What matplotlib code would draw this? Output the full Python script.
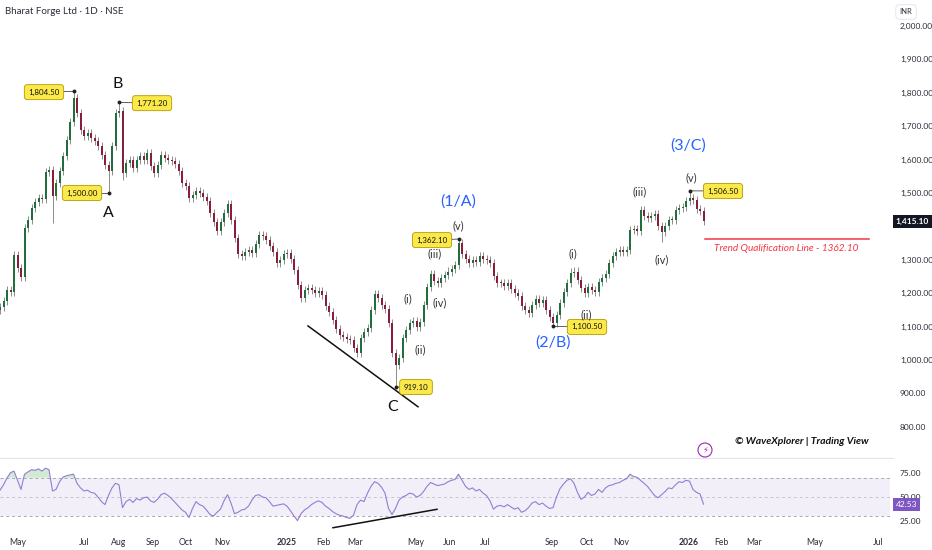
import numpy as np
import matplotlib
matplotlib.use("Agg")
import matplotlib.pyplot as plt
from matplotlib.ticker import FuncFormatter, FixedLocator
import matplotlib.transforms as mtrans

plt.rcParams['font.family'] = ['Lato', 'DejaVu Sans']

# ---------------- data ----------------
closes = [
    1160, 1178, 1210, 1205, 1315, 1275, 1250, 1395, 1420, 1455,
    1472, 1485, 1482, 1562, 1570, 1490, 1530, 1565, 1610, 1660,
    1712, 1785, 1740, 1690, 1670, 1680, 1665, 1655, 1640, 1615,
    1585, 1565, 1640, 1740, 1745, 1560, 1590, 1600, 1575, 1600,
    1610, 1600, 1620, 1580, 1560, 1585, 1615, 1605, 1600, 1595,
    1588, 1565, 1530, 1520, 1485, 1495, 1505, 1500, 1488, 1475,
    1440, 1412, 1385, 1412, 1440, 1468, 1420, 1365, 1318, 1312,
    1322, 1330, 1320, 1348, 1375, 1372, 1360, 1340, 1322, 1290,
    1300, 1318, 1320, 1302, 1270, 1225, 1185, 1210, 1215, 1210,
    1202, 1208, 1195, 1162, 1145, 1120, 1092, 1075, 1068, 1062,
    1060, 1035, 1020, 1065, 1085, 1095, 1150, 1198, 1185, 1165,
    1152, 1110, 1020, 985, 1005, 1065, 1090, 1110, 1118, 1100,
    1115, 1165, 1220, 1258, 1238, 1232, 1245, 1255, 1265, 1272,
    1285, 1350, 1318, 1302, 1290, 1300, 1292, 1310, 1302, 1300,
    1290, 1252, 1232, 1230, 1222, 1230, 1212, 1202, 1192, 1162,
    1150, 1142, 1165, 1182, 1172, 1180, 1150, 1128, 1112, 1135,
    1170, 1205, 1230, 1262, 1265, 1240, 1215, 1202, 1220, 1210,
    1205, 1235, 1245, 1258, 1290, 1312, 1322, 1328, 1322, 1330,
    1390, 1393, 1385, 1448, 1430, 1425, 1432, 1438, 1400, 1382,
    1400, 1420, 1418, 1450, 1455, 1458, 1475, 1485, 1478, 1452,
    1445, 1415.10,
]
first_open = 1150

rsi = [
    57.1, 62.7, 69.8, 75.4, 77.0, 67.4, 57.9, 73.8, 76.2, 78.5,
    77.8, 79.3, 77.0, 80.1, 78.5, 56.3, 57.9, 65.9, 70.6, 72.2,
    73.0, 73.8, 64.3, 59.5, 56.3, 57.1, 54.8, 54.0, 50.0, 45.2,
    42.1, 51.6, 59.5, 64.3, 62.7, 38.9, 45.2, 47.6, 44.4, 48.4,
    46.8, 49.2, 50.0, 46.0, 44.4, 47.6, 52.4, 54.0, 51.6, 48.4,
    44.4, 40.5, 36.5, 34.1, 28.6, 38.1, 45.2, 42.1, 40.5, 36.5,
    31.8, 30.2, 34.1, 37.3, 46.0, 52.4, 43.7, 32.6, 34.1, 36.5,
    37.3, 40.5, 46.8, 51.6, 52.4, 50.0, 49.2, 45.2, 40.5, 41.3,
    42.1, 42.9, 40.5, 35.7, 30.2, 25.4, 32.6, 36.5, 38.9, 42.1,
    44.4, 46.0, 44.4, 40.5, 38.1, 34.9, 32.6, 31.0, 30.2, 28.6,
    27.8, 31.0, 42.1, 46.8, 45.2, 54.0, 61.1, 65.9, 64.3, 60.3,
    54.0, 38.1, 31.8, 38.1, 46.8, 50.0, 51.6, 54.0, 53.2, 50.0,
    51.6, 55.6, 61.1, 65.1, 63.5, 61.9, 62.7, 63.5, 65.9, 67.4,
    68.2, 73.8, 67.4, 61.1, 57.9, 59.5, 56.3, 57.9, 54.0, 51.6,
    46.0, 37.3, 40.5, 41.3, 39.7, 42.1, 39.7, 37.3, 38.9, 34.1,
    35.7, 38.9, 43.7, 45.2, 42.1, 43.7, 40.5, 38.1, 38.9, 50.0,
    58.7, 63.5, 67.4, 69.0, 64.3, 54.8, 47.6, 50.0, 54.8, 51.6,
    53.2, 57.9, 54.8, 59.5, 61.9, 62.7, 64.3, 65.1, 67.4, 69.0,
    73.8, 71.4, 70.6, 67.4, 64.3, 61.1, 56.3, 51.6, 49.2, 52.4,
    55.6, 59.5, 58.7, 62.7, 65.9, 65.1, 67.4, 66.6, 57.9, 54.8,
    53.2, 42.53,
]

# bar index -> extreme high / low
high_marks = {21: 1804.50, 34: 1771.20, 131: 1362.10, 197: 1506.50}
low_marks = {31: 1500.00, 113: 919.10, 158: 1100.50, 15: 1410, 189: 1354, 35: 1540}

month_labels = ['May', 'Jul', 'Aug', 'Sep', 'Oct', 'Nov', '2025', 'Feb', 'Mar',
                'May', 'Jun', 'Jul', 'Sep', 'Oct', 'Nov', '2026', 'Feb', 'Mar',
                'May', 'Jul']
price_ticks = [800, 900, 1000, 1100, 1200, 1300, 1500, 1600, 1700, 1800, 1900, 2000]
rsi_ticks = [25, 50, 75]

trend_qual = 1362.10
last_price = 1415.10
last_rsi = 42.53

# ---------------- layout / style ----------------
SP = 3.5                      # bar spacing (axis units ~ pixels)
month_pos = [18, 84, 119, 153, 186, 222, 287, 323, 355, 416, 450, 485,
             552, 587, 621, 689, 721, 754, 815, 878]
UP = '#1f6e3c'
DN = '#8a1d3b'
WICK = '#8c8c8c'
BLUE = '#2962ff'
RED = '#f23645'
TXT = '#2a2e39'

W, H = 932, 550
fig = plt.figure(figsize=(W / 100, H / 100), dpi=100)
fig.patch.set_facecolor('white')

ax = fig.add_axes([0, (H - 458) / H, 893 / W, 458 / H])
axr = fig.add_axes([0, (H - 531) / H, 893 / W, 72 / H], sharex=ax)

c = np.array(closes, dtype=float)
o = np.r_[first_open, c[:-1]]
n = len(c)
x = np.arange(n) * SP
hi = np.maximum(o, c) + 12
lo = np.minimum(o, c) - 12
for k, v in high_marks.items():
    hi[k] = v
for k, v in low_marks.items():
    lo[k] = v

up = c >= o
ax.vlines(x, lo, hi, color=WICK, lw=0.7, zorder=2)
body_h = np.maximum(np.abs(c - o), 3)
body_b = np.minimum(o, c)
ax.bar(x[up], body_h[up], bottom=body_b[up], width=2.0, color=UP, lw=0, zorder=3)
ax.bar(x[~up], body_h[~up], bottom=body_b[~up], width=2.0, color=DN, lw=0, zorder=3)

ax.set_xlim(0, 893)
ax.set_ylim(706.6, 2077.9)
for a in (ax, axr):
    for s in a.spines.values():
        s.set_visible(False)
ax.spines['bottom'].set_visible(True)
ax.spines['bottom'].set_color('#e0e3eb')
ax.spines['bottom'].set_linewidth(0.8)

ax.yaxis.tick_right()
ax.yaxis.set_major_locator(FixedLocator(price_ticks))
ax.yaxis.set_major_formatter(FuncFormatter(lambda v, p: f'{v:,.2f}'))
ax.tick_params(axis='y', length=0, pad=5, labelsize=6, labelcolor=TXT)
ax.tick_params(axis='x', length=0, labelbottom=False)

# title & INR
fig.text(5 / W, 1 - 11 / H, 'Bharat Forge Ltd · 1D · NSE', fontsize=7, color=TXT,
         va='center', ha='left')
fig.text(906 / W, 1 - 12 / H, 'INR', fontsize=5.5, color=TXT, va='center', ha='center',
         bbox=dict(boxstyle='round,pad=0.5', fc='white', ec='#e0e3eb', lw=0.6))

# last price label
tr = mtrans.blended_transform_factory(ax.transAxes, ax.transData)
ax.text(1.003, last_price, f'{last_price:,.2f}', transform=tr, fontsize=6, color='white',
        fontweight='bold', va='center', ha='left', zorder=10,
        bbox=dict(boxstyle='square,pad=0.35', fc='#131722', ec='none'))

# yellow price boxes: (bar index, value, box x, box y)
boxes = [
    (21, 1804.50, 44, 1802),
    (34, 1771.20, 152, 1769),
    (31, 1500.00, 82, 1500),
    (131, 1362.10, 432, 1359),
    (113, 919.10, 416, 919),
    (158, 1100.50, 587, 1099),
    (197, 1506.50, 723, 1506),
]
for bi, val, bx, by in boxes:
    px = bi * SP
    ax.plot([px, bx], [val, by], color='#444444', lw=0.6, zorder=5)
    ax.plot([px], [val], 'o', ms=1.8, color='#222222', zorder=6)
    ax.text(bx, by, f'{val:,.2f}', fontsize=5.7, color='#111111', ha='center', va='center',
            zorder=7, bbox=dict(boxstyle='round,pad=0.5,rounding_size=0.35', fc='#fbe94a',
                                ec='#b39b00', lw=0.6))

# wave labels
for t, xx, yy in [('A', 108, 1440), ('B', 118, 1826), ('C', 393, 859)]:
    ax.text(xx, yy, t, fontsize=11.5, color='#111111', ha='center', va='center', zorder=8)
for t, xx, yy in [('(1/A)', 458, 1473), ('(2/B)', 553, 1051), ('(3/C)', 688, 1641)]:
    ax.text(xx, yy, t, fontsize=11.5, color=BLUE, ha='center', va='center', zorder=8)
small = [('(v)', 458, 1401), ('(iii)', 435, 1317), ('(i)', 408, 1183), ('(iv)', 440, 1171),
         ('(ii)', 420, 1030), ('(i)', 573, 1317), ('(ii)', 586, 1135), ('(iii)', 640, 1503),
         ('(iv)', 662, 1299), ('(v)', 691, 1545)]
for t, xx, yy in small:
    ax.text(xx, yy, t, fontsize=7.8, color='#333333', ha='center', va='center', zorder=8)

# trend lines
ax.plot([308, 418], [1102, 860], color='#111111', lw=1.1, zorder=6)
ax.plot([705, 869], [trend_qual, trend_qual], color=RED, lw=1.1, zorder=6)
ax.text(786, 1335, f'Trend Qualification Line - {trend_qual:.2f}', fontsize=7.2, color=RED,
        style='italic', ha='center', va='center')

# watermark and icon
fig.text(802 / W, 1 - 441 / H, '© WaveXplorer | Trading View', fontsize=7.5, color='#111111',
         style='italic', fontweight='bold', ha='center', va='center')
fig.text(705 / W, 1 - 450 / H, '⚡', fontsize=6, color='#9c27b0', ha='center', va='center',
         family=['DejaVu Sans'],
         bbox=dict(boxstyle='circle,pad=0.3', fc='white', ec='#9c27b0', lw=0.8))

# ---------------- RSI pane ----------------
r = np.array(rsi, dtype=float)
axr.set_ylim(14.6, 89.6)
axr.fill_between([0, 890], 30, 70, color='#7e57c2', alpha=0.09, lw=0)
for lvl, al in [(70, 1), (50, 0.6), (30, 1)]:
    axr.plot([0, 890], [lvl, lvl], color='#a8a8b0', lw=0.7, ls=(0, (3, 3)), alpha=al)
axr.fill_between(x, 70, r, where=r > 70, interpolate=True, color='#4caf50', alpha=0.25, lw=0)
axr.fill_between(x, 30, r, where=r < 30, interpolate=True, color=RED, alpha=0.15, lw=0)
axr.plot(x, r, color='#8f7fd4', lw=0.8)
axr.plot([333, 437], [18.0, 37.2], color='#111111', lw=1.1)

axr.yaxis.tick_right()
axr.yaxis.set_major_locator(FixedLocator(rsi_ticks))
axr.yaxis.set_major_formatter(FuncFormatter(lambda v, p: f'{v:.2f}'))
axr.tick_params(axis='y', length=0, pad=5, labelsize=6, labelcolor=TXT)
axr.set_xticks(month_pos)
axr.set_xticklabels(month_labels)
axr.tick_params(axis='x', length=0, pad=5, labelsize=6.2, labelcolor=TXT)
for lab in axr.get_xticklabels():
    if lab.get_text() in ('2025', '2026'):
        lab.set_fontweight('bold')
trr = mtrans.blended_transform_factory(axr.transAxes, axr.transData)
axr.text(1.003, last_rsi, f'{last_rsi:.2f}', transform=trr, fontsize=6, color='white',
         va='center', ha='left', zorder=10,
         bbox=dict(boxstyle='square,pad=0.35', fc='#7e57c2', ec='none'))

fig.savefig('out.png', dpi=100, facecolor='white')
